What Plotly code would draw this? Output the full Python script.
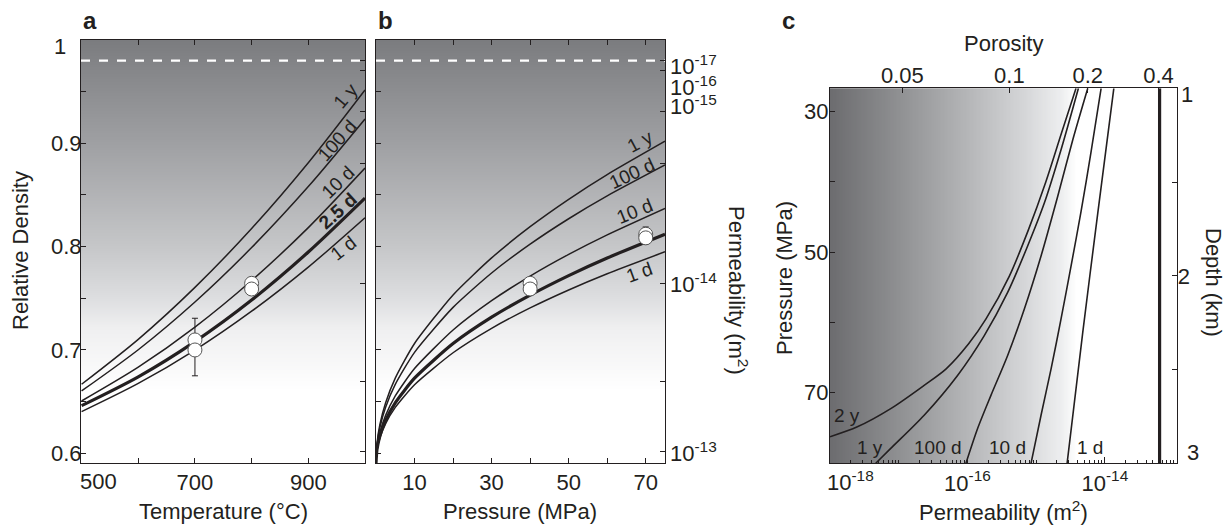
import numpy as np
import plotly.graph_objects as go

FONT = "Liberation Sans, Arial, Helvetica, sans-serif"
INK = "#231f20"
W, H = 1231, 529
FS = 22

# ---------------- Panel a: relative density vs temperature ----------------
temp_c = [500, 600, 700, 800, 900, 1000]
a_1y = [0.6668, 0.7103, 0.7606, 0.8175, 0.8812, 0.9516]
a_100d = [0.6603, 0.7002, 0.7464, 0.7991, 0.8581, 0.9235]
a_10d = [0.6506, 0.6833, 0.7221, 0.7672, 0.8184, 0.8760]
a_25d = [0.6461, 0.6740, 0.7081, 0.7483, 0.7948, 0.8470]
a_1d = [0.6403, 0.6676, 0.6999, 0.7375, 0.7802, 0.8280]
a_obs_t = [700, 700, 800, 800]
a_obs_rho = [0.7097, 0.7000, 0.7645, 0.7590]
a_err_plus = [0.021, 0.0, 0.0, 0.0]
a_err_minus = [0.0, 0.025, 0.0, 0.0]

# ---------------- Panel b: relative density vs pressure ----------------
pres_mpa = [0, 0.25, 1, 2.5, 5, 10, 20, 30, 40, 50, 60, 75]
b_1y = [0.5906, 0.6090, 0.6276, 0.6489, 0.6728, 0.7063, 0.7533, 0.7891, 0.8193, 0.8458, 0.8697, 0.9020]
b_100d = [0.5906, 0.6077, 0.6249, 0.6446, 0.6667, 0.6977, 0.7412, 0.7745, 0.8024, 0.8270, 0.8491, 0.8790]
b_10d = [0.5906, 0.6051, 0.6198, 0.6367, 0.6555, 0.6820, 0.7193, 0.7477, 0.7715, 0.7925, 0.8114, 0.8370]
b_25d = [0.5906, 0.6036, 0.6168, 0.6319, 0.6489, 0.6727, 0.7062, 0.7317, 0.7531, 0.7720, 0.7890, 0.8120]
b_1d = [0.5906, 0.6025, 0.6147, 0.6287, 0.6444, 0.6664, 0.6973, 0.7209, 0.7407, 0.7581, 0.7738, 0.7950]
b_obs_p = [40, 40, 70, 70]
b_obs_rho = [0.7645, 0.7590, 0.8120, 0.8085]
b_err_plus = [0.0, 0.006, 0.007, 0.0]
b_err_minus = [0.006, 0.0, 0.0, 0.006]

# right-hand permeability scale of panels a/b
perm_labels = ["10<sup>-17</sup>", "10<sup>-16</sup>", "10<sup>-15</sup>", "10<sup>-14</sup>", "10<sup>-13</sup>"]
perm_label_density = [0.9760, 0.9555, 0.9370, 0.7650, 0.6014]
perm_tick_density = [0.9800, 0.9709, 0.9306, 0.8806, 0.7645, 0.6693, 0.6013]
sealed_density = 0.98

# ---------------- Panel c: pressure vs permeability ----------------
c_2y_logk = [-18.0, -17.602, -17.116, -16.630, -16.310, -15.980, -15.730, -15.390, -15.120, -14.860, -14.630, -14.420]
c_2y_p = [76.27, 74.85, 72.26, 68.95, 66.60, 63.00, 59.50, 53.40, 47.00, 40.00, 33.00, 26.68]
c_1y_logk = [-17.334, -17.116, -16.630, -16.144, -15.755, -15.415, -15.124, -14.880, -14.638, -14.385]
c_1y_p = [80.04, 77.92, 73.20, 67.54, 61.87, 55.73, 49.12, 42.98, 35.43, 26.68]
c_100d_logk = [-16.022, -15.852, -15.658, -15.415, -15.172, -14.929, -14.686, -14.467, -14.249]
c_100d_p = [80.04, 75.09, 70.37, 64.70, 58.09, 50.54, 42.04, 34.01, 26.68]
c_10d_logk = [-15.075, -14.929, -14.783, -14.638, -14.492, -14.346, -14.200, -14.055]
c_10d_p = [80.04, 73.20, 66.60, 59.50, 51.95, 44.17, 35.67, 26.68]
c_1d_logk = [-14.550, -14.322, -14.103, -13.870]
c_1d_p = [80.04, 61.40, 44.40, 26.68]
c_max_logk = -13.204
porosity_vals = ["0.05", "0.1", "0.2", "0.4"]
porosity_at_logk = [-16.946, -15.390, -14.250, -13.220]
depth_km = [1, 1.5, 2, 2.5, 3]
p_per_km = 26.68


def px(x, y):
    return x / W, 1 - y / H


fig = go.Figure()

# background gradients (styling)
rho_grid = np.linspace(0.5906, 1.0, 120)
grad_scale = [[0.0, "#ffffff"], [0.17, "#ffffff"], [0.32, "#efeff0"], [0.39, "#dddee0"],
              [0.51, "#c6c7c9"], [0.756, "#9fa0a3"], [1.0, "#7b7c7f"]]
z_ab = np.column_stack([rho_grid, rho_grid])
fig.add_trace(go.Heatmap(x=[499, 1000], y=rho_grid, z=z_ab, colorscale=grad_scale, zsmooth="best",
                         showscale=False, hoverinfo="skip", xaxis="x", yaxis="y"))
fig.add_trace(go.Heatmap(x=[0, 75], y=rho_grid, z=z_ab, colorscale=grad_scale, zsmooth="best",
                         showscale=False, hoverinfo="skip", xaxis="x2", yaxis="y2"))
lk_grid = np.linspace(-18.0, -12.955, 300)
c_scale = [[0.0, "#6c6c6f"], [0.18, "#8c8d8f"], [0.37, "#b0b1b3"], [0.56, "#d5d6d8"],
           [0.67, "#eeeff0"], [0.71, "#ffffff"], [1.0, "#ffffff"]]
fig.add_trace(go.Heatmap(x=10 ** lk_grid, y=[26.68, 80.04], z=np.vstack([lk_grid, lk_grid]),
                         colorscale=c_scale, zsmooth=False, showscale=False, hoverinfo="skip",
                         xaxis="x3", yaxis="y3"))

# dashed sealed-density line
for xa, ya, xr in (("x", "y", [499, 1000]), ("x2", "y2", [0, 75])):
    fig.add_trace(go.Scatter(x=xr, y=[sealed_density] * 2, mode="lines",
                             line=dict(color="white", width=2.2, dash="dash"),
                             xaxis=xa, yaxis=ya, hoverinfo="skip"))

# panel a curves
for ys, w in ((a_1y, 1.5), (a_100d, 1.5), (a_10d, 1.5), (a_1d, 1.5), (a_25d, 3.2)):
    fig.add_trace(go.Scatter(x=temp_c, y=ys, mode="lines",
                             line=dict(color=INK, width=w, shape="spline", smoothing=0.8),
                             xaxis="x", yaxis="y", hoverinfo="skip"))
# panel b curves
for ys, w in ((b_1y, 1.5), (b_100d, 1.5), (b_10d, 1.5), (b_1d, 1.5), (b_25d, 3.2)):
    fig.add_trace(go.Scatter(x=pres_mpa, y=ys, mode="lines",
                             line=dict(color=INK, width=w, shape="spline", smoothing=0.6),
                             xaxis="x2", yaxis="y2", hoverinfo="skip"))

# observations
mk = dict(size=14, color="white", line=dict(color="#555555", width=1))
fig.add_trace(go.Scatter(x=a_obs_t, y=a_obs_rho, mode="markers", marker=mk,
                         error_y=dict(type="data", array=a_err_plus, arrayminus=a_err_minus, color=INK,
                                      thickness=1, width=3),
                         xaxis="x", yaxis="y", hoverinfo="skip"))
fig.add_trace(go.Scatter(x=b_obs_p, y=b_obs_rho, mode="markers", marker=mk,
                         error_y=dict(type="data", array=b_err_plus, arrayminus=b_err_minus, color=INK,
                                      thickness=1, width=3),
                         xaxis="x2", yaxis="y2", hoverinfo="skip"))

# panel c curves
for lk, pp in ((c_2y_logk, c_2y_p), (c_1y_logk, c_1y_p), (c_100d_logk, c_100d_p),
               (c_10d_logk, c_10d_p), (c_1d_logk, c_1d_p)):
    fig.add_trace(go.Scatter(x=10 ** np.array(lk), y=pp, mode="lines",
                             line=dict(color=INK, width=1.6, shape="spline", smoothing=0.8),
                             xaxis="x3", yaxis="y3", hoverinfo="skip"))
fig.add_trace(go.Scatter(x=[10 ** c_max_logk] * 2, y=[26.68, 80.04], mode="lines",
                         line=dict(color=INK, width=3.2), xaxis="x3", yaxis="y3", hoverinfo="skip"))

# invisible anchors so overlay axes are drawn
for xa, ya, xv, yv in (("x", "y4", 700, 0.8), ("x2", "y5", 40, 0.8), ("x3", "y6", 1e-15, 50),
                       ("x4", "y3", 1e-15, 50), ("x5", "y3", 1e-15, 50)):
    fig.add_trace(go.Scatter(x=[xv], y=[yv], mode="markers", marker=dict(opacity=0, size=1),
                             xaxis=xa, yaxis=ya, hoverinfo="skip"))

# ---------------- axes ----------------
tf = dict(family=FONT, size=FS, color=INK)
common = dict(showline=True, linecolor=INK, linewidth=1, ticks="inside", ticklen=5, tickcolor=INK,
              tickwidth=1, showgrid=False, zeroline=False, tickfont=tf, automargin=False)

dom_ab_y = [1 - 463 / H, 1 - 40 / H]
dom_c_y = [1 - 463.3 / H, 1 - 88.3 / H]
dens_ticks = [round(0.6 + 0.05 * i, 2) for i in range(9)]
dens_text = ["0.6", "", "0.7", "", "0.8", "", "0.9", "", ""]

minor_vals = []
for e in range(-18, -12):
    for m in range(2, 10):
        minor_vals.append(m * 10.0 ** e)
minor_vals += [1e-17, 1e-15, 1e-13]

fig.update_layout(
    template="none",
    width=W, height=H, margin=dict(l=0, r=0, t=0, b=0, pad=0),
    paper_bgcolor="white", plot_bgcolor="white", showlegend=False,
    font=dict(family=FONT, color=INK),
    xaxis=dict(common, domain=[81 / W, 365 / W], range=[499, 1000], anchor="y",
               tickvals=[500, 600, 700, 800, 900, 1000], ticktext=["", "", "700", "", "900", ""],
               mirror="ticks"),
    yaxis=dict(common, domain=dom_ab_y, range=[0.5906, 1.0], anchor="x",
               tickvals=dens_ticks, ticktext=dens_text, mirror=True, ticklabelstandoff=-6),
    yaxis4=dict(common, overlaying="y", side="right", anchor="x", range=[0.5906, 1.0],
                tickvals=perm_tick_density, showticklabels=False, showline=False),
    xaxis2=dict(common, domain=[376 / W, 665 / W], range=[0, 75], anchor="y2",
                tickvals=[10, 20, 30, 40, 50, 60, 70], ticktext=["10", "", "30", "", "50", "", "70"],
                mirror="ticks"),
    yaxis2=dict(common, domain=dom_ab_y, range=[0.5906, 1.0], anchor="x2",
                tickvals=dens_ticks, showticklabels=False, mirror=True),
    yaxis5=dict(common, overlaying="y2", side="right", anchor="x2", range=[0.5906, 1.0],
                tickvals=perm_tick_density, showticklabels=False, showline=False),
    xaxis3=dict(common, domain=[830 / W, 1176.7 / W], type="log", range=[-18.0, -12.955], anchor="y3",
                tickvals=[1e-18, 1e-16, 1e-14],
                ticktext=["", "10<sup>-16</sup>", "10<sup>-14</sup>"], mirror=True, ticklen=6),
    xaxis5=dict(common, overlaying="x3", side="bottom", anchor="y3", type="log", range=[-18.0, -12.955],
                tickvals=minor_vals, showticklabels=False, ticklen=3, showline=False),
    xaxis4=dict(common, overlaying="x3", side="top", anchor="y3", type="log", range=[-18.0, -12.955],
                tickvals=[10 ** v for v in porosity_at_logk], ticktext=porosity_vals, showline=False),
    yaxis3=dict(common, domain=dom_c_y, range=[80.04, 26.68], anchor="x3",
                tickvals=[30, 40, 50, 60, 70], ticktext=["30", "", "50", "", "70"], mirror=True,
                ticklabelstandoff=-4),
    yaxis6=dict(common, overlaying="y3", side="right", anchor="x3", range=[80.04, 26.68],
                tickvals=[d * p_per_km for d in depth_km], ticktext=["", "", "2", "", ""], showline=False),
)

# ---------------- annotations ----------------
ann = []


def add_text(text, x, y, size=FS, angle=0, bold=False):
    xx, yy = px(x, y)
    ann.append(dict(text=("<b>%s</b>" % text) if bold else text, x=xx, y=yy, xref="paper", yref="paper",
                    showarrow=False, textangle=angle, xanchor="center", yanchor="middle",
                    font=dict(family=FONT, size=size, color=INK)))


add_text("a", 90, 20, size=24, bold=True)
add_text("b", 385, 20, size=24, bold=True)
add_text("c", 789, 20, size=24, bold=True)
add_text("Relative Density", 20, 251, angle=-90)
add_text("Temperature (°C)", 223, 511)
add_text("Pressure (MPa)", 520, 511)
add_text("Permeability (m<sup>2</sup>)", 738, 290, angle=90)
add_text("Porosity", 1003, 43)
add_text("Pressure (MPa)", 784, 278, angle=-90)
add_text("Depth (km)", 1214, 282, angle=90)
add_text("Permeability (m<sup>2</sup>)", 1003, 511)
# edge tick labels shifted inward as in the reference
add_text("500", 98, 481)
add_text("1", 60, 47)
add_text("10<sup>-18</sup>", 850, 481)
add_text("1", 1187, 95)
add_text("3", 1193, 452)

# permeability labels of panel b, placed on the density scale
for lab, dv in zip(perm_labels, perm_label_density):
    ann.append(dict(text=lab, x=668 / W, y=dv, xref="paper", yref="y2", showarrow=False,
                    xanchor="left", yanchor="middle", font=dict(family=FONT, size=FS, color=INK)))

# curve labels a
LS = 19
add_text("1 y", 346, 96, size=LS, angle=-50)
add_text("100 d", 337, 140, size=LS, angle=-48)
add_text("10 d", 338, 183, size=LS, angle=-44)
add_text("2.5 d", 337, 211, size=LS, angle=-42, bold=True)
add_text("1 d", 343, 248, size=LS, angle=-38)
# curve labels b
add_text("1 y", 640, 141, size=LS, angle=-28)
add_text("100 d", 632, 173, size=LS, angle=-25)
add_text("10 d", 634, 211, size=LS, angle=-22)
add_text("1 d", 639, 272, size=LS, angle=-20)
# curve labels c
add_text("2 y", 847, 415, size=LS)
add_text("1 y", 870, 447, size=LS)
add_text("100 d", 938, 447, size=LS)
add_text("10 d", 1007, 447, size=LS)
add_text("1 d", 1090, 447, size=LS)

fig.update_layout(annotations=ann)
fig.write_html("out.html", config={"displayModeBar": False},
               post_script="document.body.style.margin='0px';document.body.style.overflow='hidden';")
